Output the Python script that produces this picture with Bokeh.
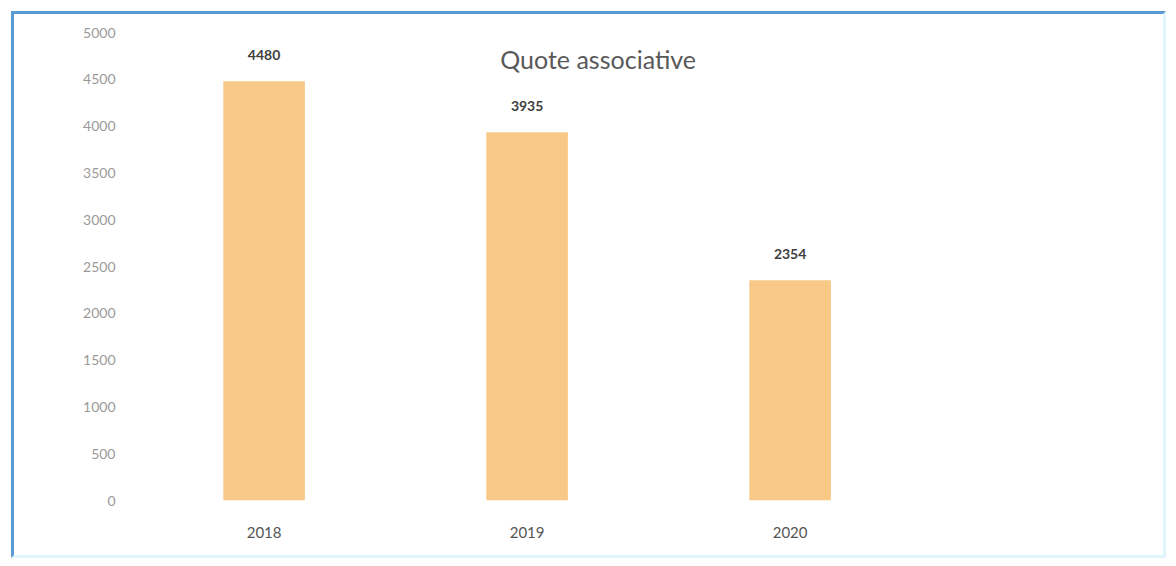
from bokeh.plotting import figure
from bokeh.models import Range1d, FixedTicker, ColumnDataSource, LabelSet, Label
from bokeh.core.properties import value
from bokeh.embed import file_html
from bokeh.resources import INLINE

years = ["2018", "2019", "2020"]
quote = [4480, 3935, 2354]
y_ticks = [0, 500, 1000, 1500, 2000, 2500, 3000, 3500, 4000, 4500, 5000]
title_text = "Quote associative"

idx = list(range(1, len(years) + 1))
src = ColumnDataSource(dict(x=idx, top=quote, lbl=[str(v) for v in quote]))

p = figure(width=1149, height=541, output_backend="svg", toolbar_location=None,
           x_range=Range1d(0.53, 4.393), y_range=Range1d(0, 5000),
           min_border_left=126, min_border_right=7, min_border_top=18, min_border_bottom=55)
p.frame_width = 1016
p.frame_height = 468
p.styles = {"border-top": "3px solid #5b9bd5", "border-left": "3px solid #5b9bd5",
            "border-right": "3px solid #e2f4fc", "border-bottom": "3px solid #e2f4fc",
            "margin-left": "11px", "margin-top": "11px"}
p.outline_line_color = None
p.background_fill_color = "white"
p.border_fill_color = "white"
p.xgrid.grid_line_color = None
p.ygrid.grid_line_color = None

p.vbar(x="x", top="top", width=0.31, source=src, fill_color="#F8C886", line_color=None)

p.yaxis.ticker = FixedTicker(ticks=y_ticks)
p.yaxis.axis_line_color = None
p.yaxis.major_tick_line_color = None
p.yaxis.minor_tick_line_color = None
p.yaxis.major_label_standoff = 19
p.yaxis.major_label_text_font = "Lato"
p.yaxis.major_label_text_font_size = "14px"
p.yaxis.major_label_text_color = "#9a9a9a"

p.xaxis.ticker = FixedTicker(ticks=idx)
p.xaxis.major_label_overrides = {i: y for i, y in zip(idx, years)}
p.xaxis.axis_line_color = None
p.xaxis.major_tick_line_color = None
p.xaxis.minor_tick_line_color = None
p.xaxis.major_label_standoff = 20
p.xaxis.major_label_text_font = "Lato"
p.xaxis.major_label_text_font_size = "15px"
p.xaxis.major_label_text_color = "#555555"

labels = LabelSet(x="x", y="top", text="lbl", source=src, text_align="center",
                  text_baseline="middle", y_offset=26, text_font=value("Lato"),
                  text_font_size=value("14px"), text_font_style=value("bold"),
                  text_color=value("#404040"))
p.add_layout(labels)

p.add_layout(Label(x=2.27, y=4720, text=title_text, text_align="center",
                   text_baseline="middle", text_font="Lato", text_font_size="25px",
                   text_color="#595959"))

open("out.html", "w").write(file_html(p, INLINE))
